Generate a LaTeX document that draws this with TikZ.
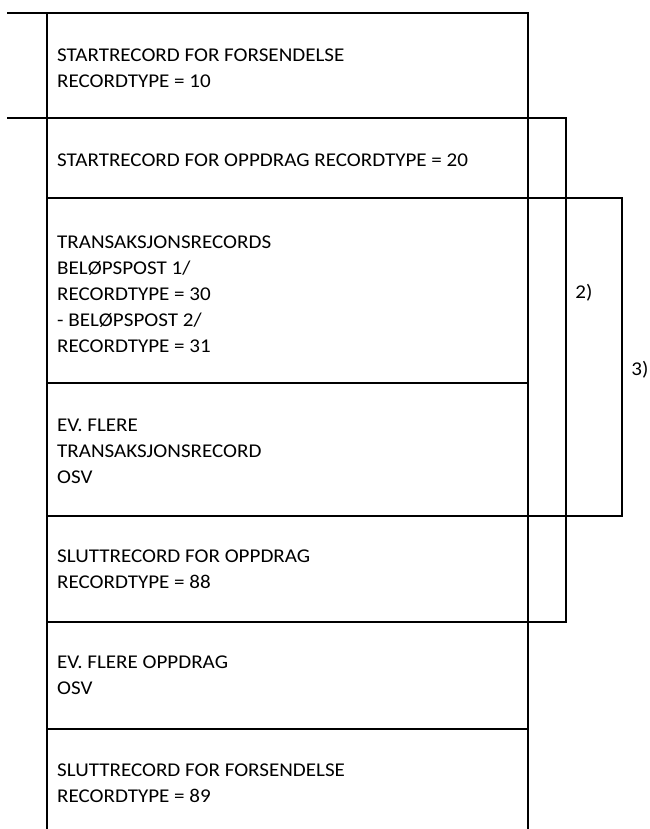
\documentclass[tikz,border=0pt]{standalone}
\usepackage{fontspec}
\setmainfont{Carlito}[FakeStretch=1.08]
\begin{document}
\begin{tikzpicture}[x=1pt,y=-1pt,
  ln/.style={line width=2.5pt,line join=miter,line cap=rect},
  rec/.style={anchor=west,inner sep=0pt,align=left,font=\fontsize{19.5}{26}\selectfont},
  lab/.style={inner sep=0pt,font=\fontsize{19.5}{26}\selectfont}]
\useasboundingbox (0,0) rectangle (649,829);
% frame
\draw[ln] (8,13) -- (528,13);
\draw[ln] (47,13) -- (47,829);
\draw[ln] (528,13) -- (528,829);
\draw[ln] (8,118) -- (566,118) -- (566,622) -- (47,622);
\draw[ln] (47,198) -- (622,198) -- (622,516) -- (47,516);
\draw[ln] (47,383) -- (528,383);
\draw[ln] (47,729) -- (528,729);
% texts
\node[rec] (r10) at (57,68.5) {STARTRECORD FOR FORSENDELSE\\RECORDTYPE = 10};
\node[rec] (r20) at (57,160) {STARTRECORD FOR OPPDRAG RECORDTYPE = 20};
\node[rec] (r30) at (57,294.5) {TRANSAKSJONSRECORDS\\BELØPSPOST 1/\\RECORDTYPE = 30\\- BELØPSPOST 2/\\RECORDTYPE = 31};
\node[rec] (rev) at (57,451) {EV. FLERE\\TRANSAKSJONSRECORD\\OSV};
\node[rec] (r88) at (57,569) {SLUTTRECORD FOR OPPDRAG\\RECORDTYPE = 88};
\node[rec] (rop) at (57,675) {EV. FLERE OPPDRAG\\OSV};
\node[rec] (r89) at (57,783) {SLUTTRECORD FOR FORSENDELSE\\RECORDTYPE = 89};
\node[lab] (l2) at (584,293) {2)};
\node[lab] (l3) at (640,370) {3)};
\end{tikzpicture}
\end{document}
